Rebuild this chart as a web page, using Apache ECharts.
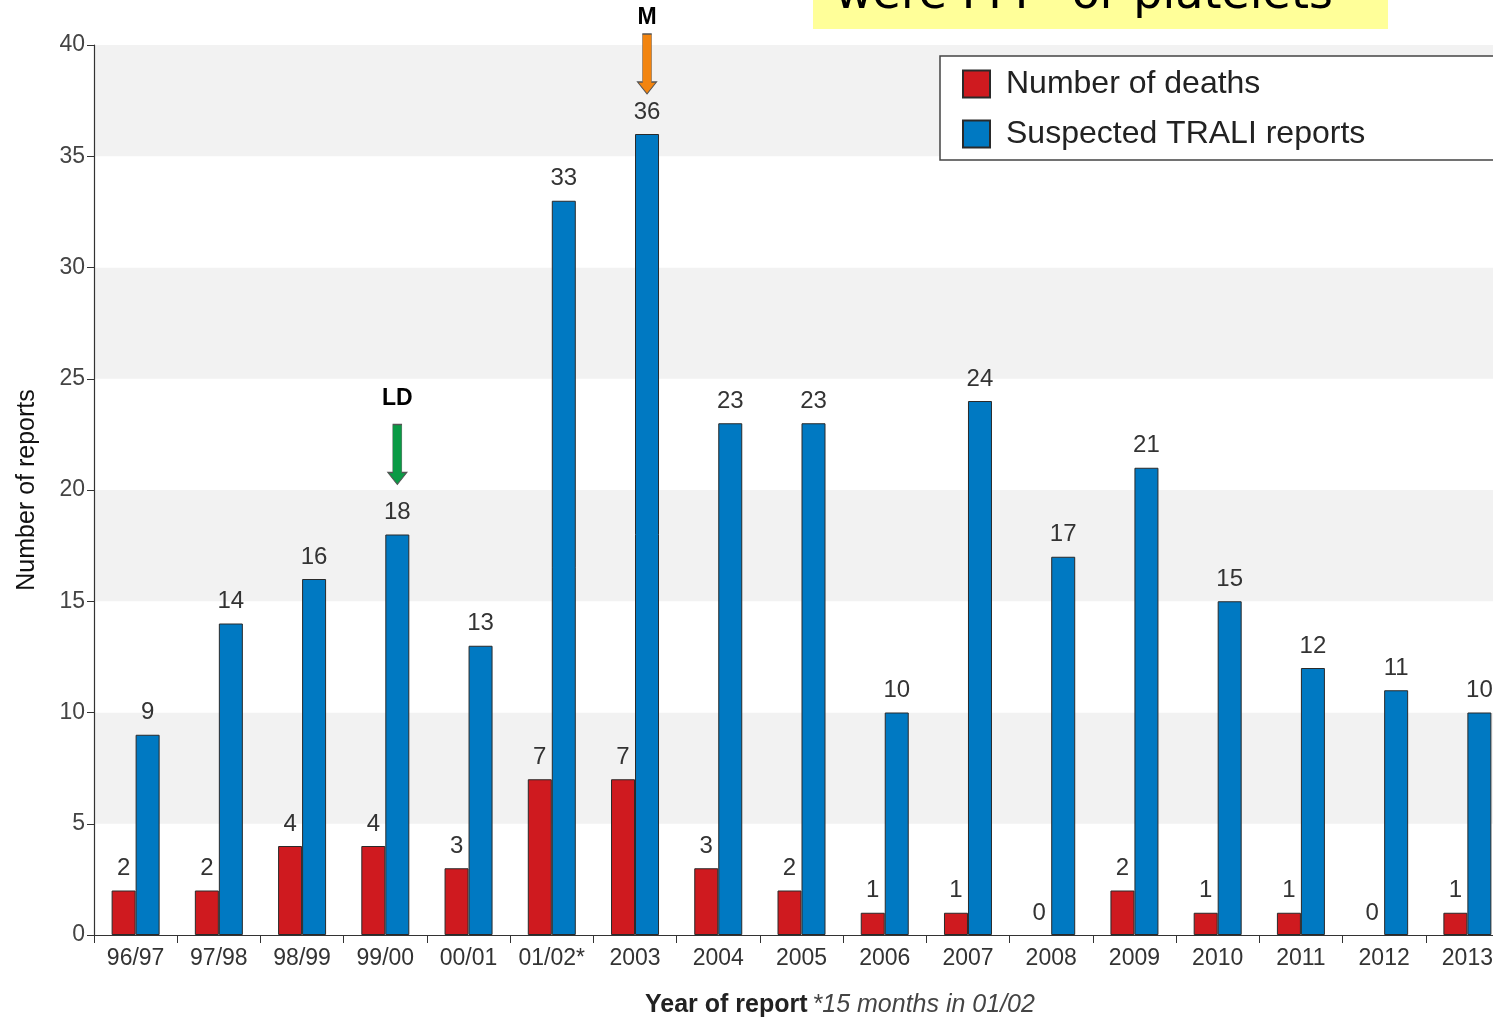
<!DOCTYPE html>
<html>
<head>
<meta charset="utf-8">
<title>Suspected TRALI reports</title>
<script src="https://cdn.jsdelivr.net/npm/echarts@6/dist/echarts.min.js"></script>
<style>
  html, body { margin: 0; padding: 0; background: #fff; }
  #chart { width: 1493px; height: 1019px; }
</style>
</head>
<body>
<div id="chart"></div>
<script>
// Report years (01/02 covers 15 months)
var categories = ['96/97', '97/98', '98/99', '99/00', '00/01', '01/02*', '2003', '2004', '2005',
                  '2006', '2007', '2008', '2009', '2010', '2011', '2012', '2013'];
var deaths = [2, 2, 4, 4, 3, 7, 7, 3, 2, 1, 1, 0, 2, 1, 1, 0, 1];
var traliReports = [9, 14, 16, 18, 13, 33, 36, 23, 23, 10, 24, 17, 21, 15, 12, 11, 10];
var yTicks = [0, 5, 10, 15, 20, 25, 30, 35, 40];

// Interventions marked above the report bars
var markerCategories = ['99/00', '2003'];
var markerLabels = ['LD', 'M'];

var FONT = '"Liberation Sans", Arial, sans-serif';
var RED = '#cf1a1f';
var BLUE = '#0079c2';
var EDGE = '#2a2a2a';

// Down arrow: shaft + head
var ARROW = 'path://M5,0 L14,0 L14,48 L19,48 L9.5,60 L0,48 L5,48 Z';
var markerStyles = [
  { color: '#0a9a45', offset: [0, -80], labelDist: 14 },
  { color: '#f2840f', offset: [0, -70], labelDist: 4 }
];

var markData = markerCategories.map(function (cat, i) {
  var idx = categories.indexOf(cat);
  var st = markerStyles[i];
  return {
    coord: [cat, traliReports[idx]],
    symbol: ARROW,
    symbolSize: [19, 60],
    symbolOffset: st.offset,
    itemStyle: { color: st.color, borderColor: '#555', borderWidth: 0.8 },
    label: {
      show: true, position: 'top', distance: st.labelDist,
      formatter: markerLabels[i],
      color: '#000', fontWeight: 'bold', fontSize: 23, fontFamily: FONT
    }
  };
});

// Zero-height bars get no outline so only their label shows
function withOutline(values, color) {
  return values.map(function (v) {
    return { value: v, itemStyle: { color: color, borderColor: EDGE, borderWidth: v === 0 ? 0 : 1 } };
  });
}

var chart = echarts.init(document.getElementById('chart'), null, { renderer: 'canvas' });

var barLabel = {
  show: true, position: 'top', distance: 10,
  color: '#333', fontSize: 24, fontFamily: FONT
};

chart.setOption({
  animation: false,
  backgroundColor: '#fff',
  textStyle: { fontFamily: FONT },
  title: {
    left: 640, top: 988,
    text: '{b|Year of report} {i|*15 months in 01/02}',
    textStyle: {
      rich: {
        b: { fontSize: 25, fontWeight: 'bold', color: '#222', fontFamily: FONT },
        i: { fontSize: 25, fontWeight: 'normal', fontStyle: 'italic', color: '#444', fontFamily: FONT }
      }
    }
  },
  graphic: [
    { type: 'rect', left: 813, top: 0, shape: { width: 575, height: 29 },
      style: { fill: '#ffff99' }, z: 10 },
    { type: 'text', x: 835, y: -4, z: 11,
      style: { text: 'were FFP  or platelets', fill: '#000',
               font: '46px "DejaVu Sans", Verdana, sans-serif',
               verticalAlign: 'middle' } }
  ],
  legend: {
    orient: 'vertical',
    left: 940, top: 56,
    padding: [12, 200, 10, 22],
    backgroundColor: '#fff',
    borderColor: '#444', borderWidth: 1.5,
    itemWidth: 27, itemHeight: 27, itemGap: 18,
    icon: 'rect',
    textStyle: { fontSize: 32, color: '#222', fontFamily: FONT, padding: [0, 0, 0, 11] },
    data: ['Number of deaths', 'Suspected TRALI reports']
  },
  grid: { left: 94, right: -16, top: 45, bottom: 84, containLabel: false, outerBoundsMode: 'none' },
  xAxis: {
    type: 'category',
    data: categories,
    axisLine: { lineStyle: { color: '#333', width: 1.2 } },
    axisTick: { show: true, length: 8, alignWithLabel: false, lineStyle: { color: '#333' } },
    axisLabel: { fontSize: 23, color: '#333', margin: 12, fontFamily: FONT, interval: 0 }
  },
  yAxis: {
    type: 'value',
    min: 0, max: 40, interval: 5,
    name: 'Number of reports',
    nameLocation: 'middle',
    nameGap: 54,
    nameMoveOverlap: false,
    nameTextStyle: { fontSize: 25, color: '#111', fontFamily: FONT },
    axisLine: { show: true, lineStyle: { color: '#333', width: 1.2 } },
    axisTick: { show: true, length: 7, lineStyle: { color: '#333' } },
    axisLabel: {
      fontSize: 23, color: '#444', margin: 9, fontFamily: FONT,
      formatter: function (v) { return yTicks.indexOf(v) >= 0 ? String(v) : ''; }
    },
    splitLine: { show: false },
    splitArea: { show: true, areaStyle: { color: ['#ffffff', '#f2f2f2'] } }
  },
  series: [
    {
      name: 'Number of deaths',
      type: 'bar',
      data: withOutline(deaths, RED),
      barWidth: 24,
      barGap: '0%',
      itemStyle: { color: RED, borderColor: EDGE, borderWidth: 1 },
      label: barLabel
    },
    {
      name: 'Suspected TRALI reports',
      type: 'bar',
      data: withOutline(traliReports, BLUE),
      barWidth: 24,
      barGap: '0%',
      itemStyle: { color: BLUE, borderColor: EDGE, borderWidth: 1 },
      label: barLabel,
      markPoint: { silent: true, data: markData }
    }
  ]
});
</script>
</body>
</html>
